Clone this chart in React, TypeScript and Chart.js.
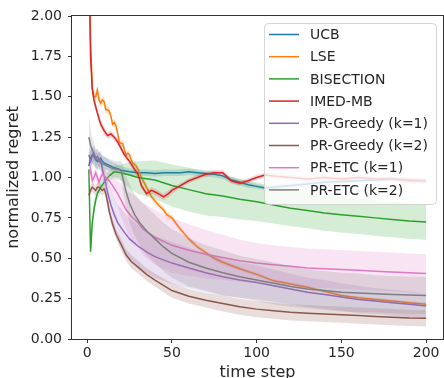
import React, { useEffect, useRef } from "react";
import { Chart, registerables } from "chart.js";

Chart.register(...registerables);

// ---------- data ----------
const ucbT = [1, 2, 3, 4, 5, 6, 7, 8, 9, 10, 12, 14, 16, 18, 20, 25, 30, 35, 40, 45, 50, 55, 60, 65, 70, 75, 80, 85, 90, 95, 100, 105, 110, 120, 130, 140, 150, 160, 170, 180, 190, 200];
const ucbMean = [1.07, 1.12, 1.14, 1.13, 1.11, 1.10, 1.11, 1.12, 1.10, 1.09, 1.08, 1.07, 1.06, 1.055, 1.045, 1.035, 1.03, 1.03, 1.025, 1.03, 1.03, 1.03, 1.035, 1.03, 1.025, 1.02, 1.01, 0.985, 0.97, 0.955, 0.945, 0.935, 0.94, 0.95, 0.96, 0.97, 0.975, 0.98, 0.985, 0.99, 0.985, 0.98];
const ucbStd = [0.06, 0.06, 0.05, 0.05, 0.05, 0.05, 0.045, 0.045, 0.04, 0.04, 0.035, 0.03, 0.03, 0.025, 0.025, 0.02, 0.02, 0.02, 0.02, 0.02, 0.02, 0.02, 0.02, 0.02, 0.02, 0.02, 0.02, 0.02, 0.02, 0.02, 0.015, 0.015, 0.015, 0.015, 0.015, 0.015, 0.015, 0.015, 0.015, 0.015, 0.015, 0.015];

const lseT = [1, 2, 3, 4, 5, 6, 7, 8, 9, 10, 11, 12, 13, 14, 15, 16, 17, 18, 19, 20, 21, 22, 23, 24, 25, 26, 27, 28, 29, 30, 32, 34, 36, 38, 40, 42, 45, 47, 50, 55, 60, 65, 70, 75, 80, 90, 100, 110, 120, 130, 140, 150, 160, 170, 180, 190, 200];
const lseMean = [2.4, 1.85, 1.56, 1.50, 1.50, 1.54, 1.48, 1.46, 1.48, 1.47, 1.42, 1.42, 1.41, 1.38, 1.33, 1.34, 1.32, 1.27, 1.22, 1.21, 1.21, 1.17, 1.14, 1.15, 1.14, 1.11, 1.09, 1.08, 1.07, 1.05, 1.0, 0.96, 0.92, 0.88, 0.855, 0.83, 0.80, 0.77, 0.75, 0.68, 0.62, 0.57, 0.535, 0.50, 0.475, 0.435, 0.40, 0.36, 0.34, 0.32, 0.295, 0.27, 0.255, 0.245, 0.235, 0.225, 0.215];
const lseStd = [0.03, 0.03, 0.03, 0.03, 0.03, 0.03, 0.03, 0.03, 0.03, 0.03, 0.025, 0.025, 0.025, 0.025, 0.025, 0.025, 0.025, 0.025, 0.025, 0.025, 0.02, 0.02, 0.02, 0.02, 0.02, 0.02, 0.02, 0.02, 0.02, 0.02, 0.02, 0.02, 0.02, 0.02, 0.02, 0.02, 0.02, 0.02, 0.02, 0.015, 0.015, 0.015, 0.015, 0.015, 0.015, 0.012, 0.012, 0.012, 0.012, 0.012, 0.01, 0.01, 0.01, 0.01, 0.01, 0.01, 0.01];

const bisT = [1, 2, 3, 4, 5, 6, 8, 10, 13, 16, 20, 25, 30, 40, 50, 60, 70, 80, 90, 100, 110, 120, 130, 140, 150, 160, 170, 180, 190, 200];
const bisMean = [1.05, 0.54, 0.72, 0.80, 0.86, 0.90, 0.94, 0.97, 1.01, 1.035, 1.03, 1.015, 1.0, 0.985, 0.95, 0.925, 0.90, 0.885, 0.865, 0.85, 0.83, 0.81, 0.795, 0.78, 0.77, 0.76, 0.75, 0.74, 0.73, 0.725];
const bisStd = [0.05, 0.05, 0.05, 0.04, 0.04, 0.04, 0.03, 0.03, 0.03, 0.04, 0.05, 0.08, 0.10, 0.12, 0.13, 0.135, 0.135, 0.13, 0.125, 0.12, 0.115, 0.11, 0.11, 0.11, 0.11, 0.11, 0.11, 0.11, 0.11, 0.11];

const imedT = [1, 2, 3, 4, 5, 6, 8, 10, 12, 14, 16, 18, 20, 22, 25, 28, 30, 32, 35, 38, 40, 42, 45, 48, 50, 55, 60, 65, 70, 75, 80, 85, 90, 95, 100, 105, 110, 120, 130, 140, 150, 160, 170, 180, 190, 200];
const imedMean = [2.4, 1.75, 1.55, 1.48, 1.44, 1.40, 1.33, 1.29, 1.26, 1.27, 1.25, 1.22, 1.18, 1.14, 1.10, 1.05, 1.02, 0.95, 0.90, 0.92, 0.91, 0.90, 0.88, 0.90, 0.92, 0.95, 0.98, 1.00, 1.02, 1.03, 1.03, 0.98, 0.965, 0.98, 1.00, 1.015, 1.01, 1.0, 0.99, 1.0, 0.99, 1.0, 0.99, 0.99, 0.98, 0.98];
const imedStd = [0.03, 0.03, 0.03, 0.03, 0.03, 0.03, 0.025, 0.025, 0.02, 0.02, 0.02, 0.02, 0.02, 0.02, 0.02, 0.02, 0.02, 0.02, 0.02, 0.02, 0.02, 0.02, 0.02, 0.02, 0.02, 0.015, 0.015, 0.015, 0.015, 0.015, 0.015, 0.015, 0.015, 0.015, 0.015, 0.015, 0.015, 0.015, 0.015, 0.015, 0.015, 0.015, 0.015, 0.015, 0.015, 0.015];

const pg1T = [1, 2, 3, 4, 5, 6, 7, 8, 9, 10, 11, 12, 13, 14, 16, 18, 20, 22, 25, 30, 35, 40, 50, 60, 70, 80, 90, 100, 110, 120, 130, 140, 150, 160, 170, 180, 190, 200];
const pg1Mean = [1.14, 1.10, 1.13, 1.15, 1.12, 1.13, 1.11, 1.10, 1.05, 1.01, 0.96, 0.91, 0.87, 0.83, 0.77, 0.72, 0.69, 0.66, 0.62, 0.575, 0.54, 0.51, 0.47, 0.44, 0.41, 0.385, 0.365, 0.35, 0.33, 0.31, 0.29, 0.275, 0.26, 0.245, 0.235, 0.225, 0.215, 0.205];
const pg1Std = [0.05, 0.05, 0.05, 0.05, 0.05, 0.05, 0.05, 0.05, 0.05, 0.05, 0.06, 0.07, 0.08, 0.09, 0.10, 0.11, 0.12, 0.12, 0.13, 0.13, 0.13, 0.13, 0.13, 0.125, 0.12, 0.115, 0.11, 0.105, 0.10, 0.095, 0.09, 0.09, 0.085, 0.085, 0.08, 0.08, 0.08, 0.08];

const pg2T = [1, 2, 3, 4, 5, 6, 7, 8, 9, 10, 11, 12, 13, 15, 17, 20, 23, 26, 30, 35, 40, 50, 60, 70, 80, 90, 100, 110, 120, 130, 140, 150, 160, 170, 180, 190, 200];
const pg2Mean = [0.89, 0.92, 0.94, 0.93, 0.92, 0.94, 0.94, 0.93, 0.92, 0.93, 0.90, 0.85, 0.79, 0.71, 0.65, 0.585, 0.52, 0.48, 0.445, 0.40, 0.365, 0.30, 0.265, 0.24, 0.22, 0.20, 0.185, 0.175, 0.165, 0.16, 0.155, 0.15, 0.145, 0.14, 0.135, 0.13, 0.128];
const pg2Std = [0.03, 0.03, 0.03, 0.03, 0.03, 0.03, 0.03, 0.03, 0.03, 0.03, 0.03, 0.03, 0.03, 0.03, 0.03, 0.035, 0.035, 0.04, 0.04, 0.04, 0.04, 0.045, 0.045, 0.045, 0.05, 0.05, 0.05, 0.05, 0.05, 0.05, 0.05, 0.05, 0.05, 0.05, 0.05, 0.05, 0.05];

const etc1T = [1, 2, 3, 4, 5, 6, 7, 8, 9, 10, 11, 12, 13, 15, 18, 20, 23, 26, 30, 33, 40, 50, 60, 70, 80, 90, 100, 110, 120, 130, 140, 150, 160, 170, 180, 190, 200];
const etc1Mean = [1.0, 1.05, 0.98, 1.0, 1.03, 1.0, 0.97, 1.0, 1.02, 1.01, 1.0, 0.99, 0.98, 0.95, 0.90, 0.86, 0.80, 0.76, 0.72, 0.68, 0.63, 0.58, 0.55, 0.525, 0.505, 0.485, 0.47, 0.46, 0.45, 0.44, 0.435, 0.43, 0.425, 0.42, 0.415, 0.41, 0.405];
const etc1Std = [0.04, 0.04, 0.04, 0.04, 0.04, 0.04, 0.04, 0.04, 0.04, 0.04, 0.04, 0.04, 0.04, 0.06, 0.08, 0.10, 0.12, 0.14, 0.15, 0.16, 0.17, 0.17, 0.16, 0.15, 0.14, 0.13, 0.125, 0.12, 0.12, 0.12, 0.12, 0.12, 0.12, 0.12, 0.12, 0.12, 0.12];

const etc2T = [1, 2, 3, 4, 5, 6, 8, 10, 12, 15, 18, 19, 20, 21, 23, 25, 28, 31, 35, 40, 45, 50, 60, 70, 80, 90, 100, 110, 120, 130, 140, 150, 160, 170, 180, 190, 200];
const etc2Mean = [1.25, 1.20, 1.17, 1.14, 1.12, 1.11, 1.09, 1.08, 1.07, 1.055, 1.05, 1.05, 1.04, 1.0, 0.91, 0.84, 0.77, 0.72, 0.67, 0.62, 0.57, 0.53, 0.475, 0.44, 0.41, 0.385, 0.365, 0.345, 0.325, 0.31, 0.30, 0.29, 0.285, 0.28, 0.275, 0.272, 0.27];
const etc2Std = [0.15, 0.10, 0.08, 0.07, 0.06, 0.06, 0.05, 0.05, 0.05, 0.05, 0.05, 0.05, 0.06, 0.08, 0.10, 0.12, 0.13, 0.14, 0.15, 0.15, 0.15, 0.15, 0.15, 0.14, 0.14, 0.13, 0.13, 0.13, 0.125, 0.12, 0.12, 0.12, 0.12, 0.115, 0.115, 0.115, 0.115];

const seriesLabels = ["UCB", "LSE", "BISECTION", "IMED-MB", "PR-Greedy (k=1)", "PR-Greedy (k=2)", "PR-ETC (k=1)", "PR-ETC (k=2)"];
const seriesColors = ["#1f77b4", "#ff7f0e", "#2ca02c", "#d62728", "#9467bd", "#8c564b", "#e377c2", "#7f7f7f"];
const seriesT = [ucbT, lseT, bisT, imedT, pg1T, pg2T, etc1T, etc2T];
const seriesMean = [ucbMean, lseMean, bisMean, imedMean, pg1Mean, pg2Mean, etc1Mean, etc2Mean];
const seriesStd = [ucbStd, lseStd, bisStd, imedStd, pg1Std, pg2Std, etc1Std, etc2Std];

const xTicks = [0, 50, 100, 150, 200];
const xMin = -8.95;
const xMax = 209.95;
const yMin = 0;
const yMax = 2;
const yStep = 0.25;
const xTitle = "time step";
const yTitle = "normalized regret";

const FONT = '"DejaVu Sans", sans-serif';
const TEXT = "#262626";

function hexA(hex: string, a: number) {
  const r = parseInt(hex.slice(1, 3), 16);
  const g = parseInt(hex.slice(3, 5), 16);
  const b = parseInt(hex.slice(5, 7), 16);
  return `rgba(${r},${g},${b},${a})`;
}

const decorPlugin = {
  id: "decor",
  afterDatasetsDraw(chart: any) {
    const { ctx, chartArea } = chart;
    const { left, right, top, bottom } = chartArea;
    ctx.save();
    // frame (spines)
    ctx.strokeStyle = "#333";
    ctx.lineWidth = 1;
    ctx.strokeRect(left - 0.5, top - 0.5, right - left + 1, bottom - top + 1);

    // axis titles
    ctx.fillStyle = TEXT;
    ctx.font = `16px ${FONT}`;
    ctx.textAlign = "center";
    ctx.textBaseline = "alphabetic";
    ctx.fillText(xTitle, (left + right) / 2, 377);
    ctx.save();
    ctx.translate(14, (top + bottom) / 2);
    ctx.rotate(-Math.PI / 2);
    ctx.textBaseline = "middle";
    ctx.fillText(yTitle, 0, 0);
    ctx.restore();

    // legend
    const bx = right - 179;
    const by = top + 7;
    const bw = 172;
    const bh = 181;
    ctx.beginPath();
    ctx.roundRect(bx + 0.5, by + 0.5, bw, bh, 4);
    ctx.fillStyle = "rgba(255,255,255,0.8)";
    ctx.fill();
    ctx.strokeStyle = "rgba(204,204,204,0.8)";
    ctx.lineWidth = 1;
    ctx.stroke();
    ctx.font = `14px ${FONT}`;
    ctx.textAlign = "left";
    ctx.textBaseline = "middle";
    seriesLabels.forEach((lab, i) => {
      const y = by + 11.5 + i * 22.2;
      ctx.strokeStyle = seriesColors[i];
      ctx.lineWidth = 1.5;
      ctx.beginPath();
      ctx.moveTo(bx + 5, y);
      ctx.lineTo(bx + 35, y);
      ctx.stroke();
      ctx.fillStyle = TEXT;
      ctx.fillText(lab, bx + 46, y + 1);
    });
    ctx.restore();
  },
};

export default function App() {
  const ref = useRef<HTMLCanvasElement | null>(null);
  useEffect(() => {
    if (!ref.current) return;
    const datasets: any[] = [];
    seriesLabels.forEach((lab, i) => {
      const T = seriesT[i];
      const m = seriesMean[i];
      const s = seriesStd[i];
      const base = 1000 - i * 10;
      datasets.push({
        label: lab + " hi",
        data: T.map((t, k) => ({ x: t, y: m[k] + s[k] })),
        borderWidth: 0,
        pointRadius: 0,
        fill: "+1",
        backgroundColor: hexA(seriesColors[i], 0.2),
        order: base,
      });
      datasets.push({
        label: lab + " lo",
        data: T.map((t, k) => ({ x: t, y: m[k] - s[k] })),
        borderWidth: 0,
        pointRadius: 0,
        fill: false,
        order: base,
      });
      datasets.push({
        label: lab,
        data: T.map((t, k) => ({ x: t, y: m[k] })),
        borderColor: seriesColors[i],
        borderWidth: 1.5,
        pointRadius: 0,
        fill: false,
        order: base - 5,
      });
    });

    const chart = new Chart(ref.current, {
      type: "line",
      data: { datasets },
      options: {
        animation: false,
        responsive: false,
        devicePixelRatio: 1,
        layout: { padding: { top: 16, right: 1, left: 0, bottom: 0 } },
        plugins: { legend: { display: false }, tooltip: { enabled: false } },
        elements: { line: { tension: 0 } },
        scales: {
          x: {
            type: "linear",
            min: xMin,
            max: xMax,
            afterBuildTicks: (scale: any) => {
              scale.ticks = xTicks.map((v) => ({ value: v }));
            },
            afterFit: (scale: any) => {
              scale.height = 39;
            },
            ticks: { font: { family: FONT, size: 14 }, color: TEXT, padding: 2, maxRotation: 0 },
            grid: { drawOnChartArea: false, tickLength: 4, tickColor: "#333", tickWidth: 1 },
            border: { display: false },
          },
          y: {
            type: "linear",
            min: yMin,
            max: yMax,
            afterFit: (scale: any) => {
              scale.width = 72;
            },
            ticks: {
              stepSize: yStep,
              font: { family: FONT, size: 14 },
              color: TEXT,
              padding: 6,
              callback: (v: any) => Number(v).toFixed(2),
            },
            grid: { drawOnChartArea: false, tickLength: 4, tickColor: "#333", tickWidth: 1 },
            border: { display: false },
          },
        },
      },
      plugins: [decorPlugin],
    });
    return () => chart.destroy();
  }, []);

  return (
    <div style={{ position: "fixed", left: 0, top: 0, width: 444, height: 378, background: "#fff" }}>
      <canvas ref={ref} width={444} height={378} style={{ display: "block" }} />
    </div>
  );
}
